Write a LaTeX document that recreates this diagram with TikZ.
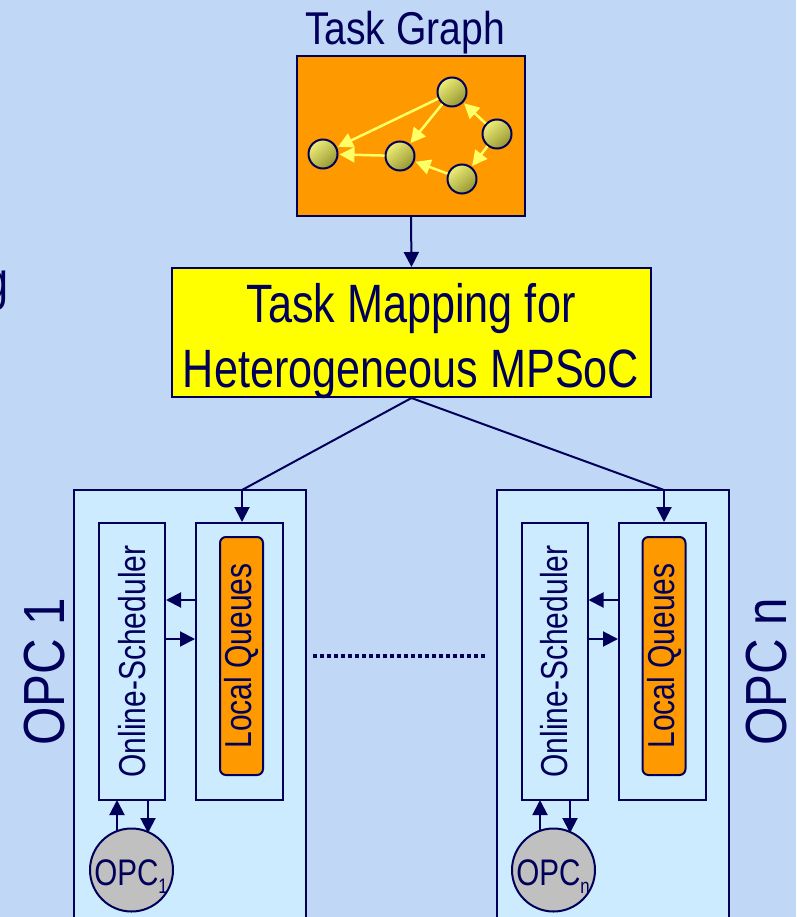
\documentclass[tikz,border=0pt]{standalone}
\usepackage{fontspec}
\setmainfont{Liberation Sans}[FakeStretch=0.85]
\newfontfamily\narrowfont{Liberation Sans}[FakeStretch=0.8]
\usetikzlibrary{arrows.meta}
\definecolor{bgblue}{RGB}{192,216,245}
\definecolor{navy}{RGB}{0,0,90}
\definecolor{taskorange}{RGB}{255,153,0}
\definecolor{mapyellow}{RGB}{255,255,0}
\definecolor{opcfill}{RGB}{204,235,255}
\definecolor{circgray}{RGB}{192,192,192}
\definecolor{edgeyellow}{RGB}{255,255,102}
\definecolor{nodelight}{RGB}{238,238,120}
\definecolor{nodedark}{RGB}{150,150,50}
\tikzset{
  box/.style={draw=navy, line width=2pt, inner sep=0pt, text=navy},
  tasknode/.style={circle, draw=navy, line width=2pt, minimum size=29pt, inner sep=0pt,
    top color=nodelight, bottom color=nodedark, shading angle=40},
  tgedge/.style={draw=edgeyellow, line width=2.5pt, -{Triangle[length=15pt,width=15pt]}, shorten >=1pt},
  link/.style={draw=navy, line width=2pt},
  flow/.style={link, -{Triangle[length=15pt,width=15pt]}},
  lbl/.style={text=navy, inner sep=0pt},
}
\newcommand{\opcsub}[1]{\raisebox{-8pt}{\fontsize{21}{22}\selectfont #1}}
\begin{document}
\begin{tikzpicture}[x=1pt, y=-1pt]
\fill[bgblue] (0,0) rectangle (796,917);
\useasboundingbox (0,0) rectangle (796,917);
\clip (0,0) rectangle (796,917);

% cut-off text at the left edge
\node[lbl, anchor=base east, font=\narrowfont\fontsize{54}{60}\selectfont] (cut) at (9,299) {g};

% task graph
\node[lbl, font=\fontsize{46}{55}\selectfont, anchor=base] (tgtitle) at (405,45) {Task Graph};
\node[box, fill=taskorange, minimum width=228pt, minimum height=160pt] (tg) at (411,136) {};
\node[tasknode] (t1) at (452,92) {};
\node[tasknode] (t2) at (497,134) {};
\node[tasknode] (t3) at (462,179) {};
\node[tasknode] (t4) at (400,156) {};
\node[tasknode] (t5) at (323,154) {};
\draw[tgedge] (t1) -- (t5);
\draw[tgedge] (t1) -- (t4);
\draw[tgedge] (t2) -- (t1);
\draw[tgedge] (t2) -- (t3);
\draw[tgedge] (t3) -- (t4);
\draw[tgedge] (t4) -- (t5);

% mapping
\node[box, fill=mapyellow, minimum width=479pt, minimum height=129pt] (map) at (411.5,332.5) {};
\node[lbl, anchor=base, font=\narrowfont\fontsize{54}{60}\selectfont] (mapl1) at (411,322) {Task Mapping for};
\node[lbl, anchor=base, font=\narrowfont\fontsize{54}{60}\selectfont] (mapl2) at (411,387) {Heterogeneous MPSoC};
\draw[flow] (tg.south) -- (map.north);

% OPC 1
\node[box, fill=opcfill, minimum width=232pt, minimum height=440pt] (opcA) at (190,710) {};
\node[box, minimum width=66pt, minimum height=277pt] (schedA) at (132,661.5) {};
\node[lbl, rotate=90, font=\narrowfont\fontsize{37.5}{40}\selectfont] at (schedA.center) {Online-Scheduler};
\node[box, minimum width=87pt, minimum height=277pt] (lqA) at (239.5,661.5) {};
\node[box, fill=taskorange, rounded corners=6pt, minimum width=43pt, minimum height=238pt] (qA) at (241.5,656) {};
\node[lbl, rotate=90, font=\narrowfont\fontsize{37.5}{40}\selectfont] at (qA.center) {Local Queues};
\node[circle, draw=navy, line width=2pt, fill=circgray, minimum size=83pt, inner sep=0pt] (cpuA) at (131.5,870) {};
\node[lbl, anchor=base, font=\narrowfont\fontsize{37}{40}\selectfont] at (131,885) {OPC\opcsub{1}};
\node[lbl, rotate=90, font=\fontsize{58}{60}\selectfont] (nameA) at (45,672) {OPC 1};

% OPC n
\node[box, fill=opcfill, minimum width=232pt, minimum height=440pt] (opcB) at (613,710) {};
\node[box, minimum width=66pt, minimum height=277pt] (schedB) at (554.5,661.5) {};
\node[lbl, rotate=90, font=\narrowfont\fontsize{37.5}{40}\selectfont] at (schedB.center) {Online-Scheduler};
\node[box, minimum width=87pt, minimum height=277pt] (lqB) at (662.5,661.5) {};
\node[box, fill=taskorange, rounded corners=6pt, minimum width=43pt, minimum height=238pt] (qB) at (664,656) {};
\node[lbl, rotate=90, font=\narrowfont\fontsize{37.5}{40}\selectfont] at (qB.center) {Local Queues};
\node[circle, draw=navy, line width=2pt, fill=circgray, minimum size=83pt, inner sep=0pt] (cpuB) at (553.5,870) {};
\node[lbl, anchor=base, font=\narrowfont\fontsize{37}{40}\selectfont] at (553,885) {OPC\opcsub{n}};
\node[lbl, rotate=90, font=\fontsize{58}{60}\selectfont] (nameB) at (767,672) {OPC n};

% distribution from the mapping stage
\coordinate (kA) at (242,490);
\coordinate (kB) at (664,490);
\draw[link] (map.south) -- (kA);
\draw[link] (map.south) -- (kB);
\draw[flow] (kA) -- (kA |- lqA.north);
\draw[flow] (kB) -- (kB |- lqB.north);

% scheduler <-> queues, scheduler <-> processor
\foreach \s/\q/\u/\d in {schedA/lqA/117/148, schedB/lqB/540/570}{
  \draw[flow] (\q.west |- 0,600) -- (\s.east |- 0,600);
  \draw[flow] (\s.east |- 0,639) -- (\q.west |- 0,639);
  \draw[flow] (\u,831) -- (\u,800);
  \draw[flow] (\d,800) -- (\d,833);
}

% dotted separator
\draw[navy, line width=4pt, dash pattern=on 4pt off 3pt] (313,656) -- (487,656);
\end{tikzpicture}
\end{document}
